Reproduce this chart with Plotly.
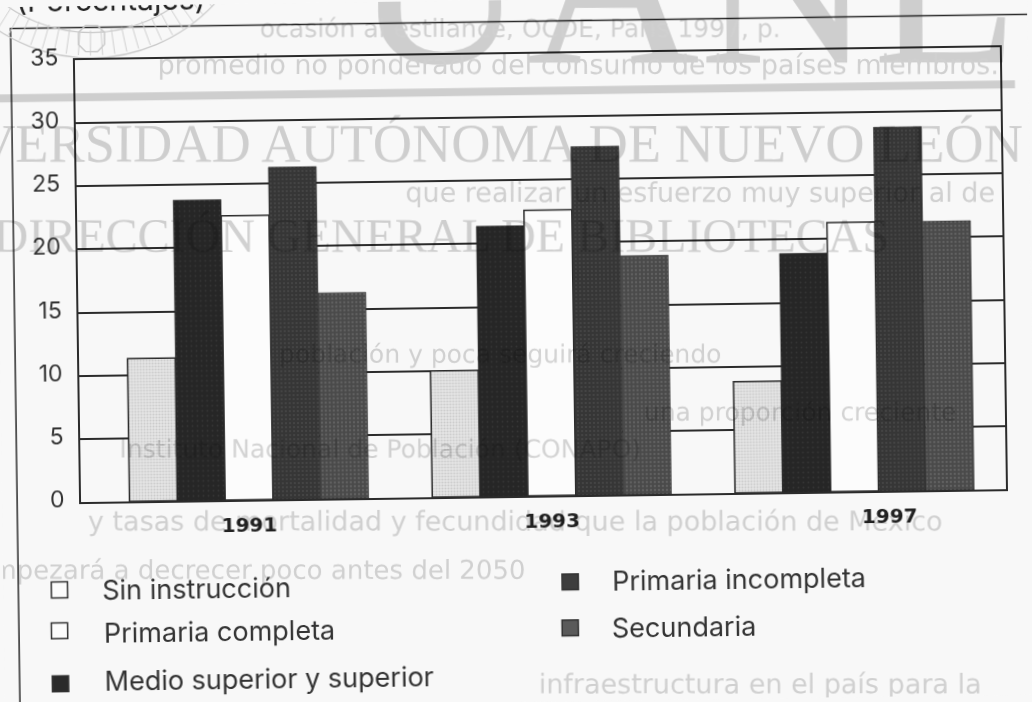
import math
import plotly.graph_objects as go

# ---- data ----
years = ["1991", "1993", "1997"]
group_positions = [0, 1, 2]
year_label_positions = [0, 1, 2.115]
sin_instruccion = [11.3, 10.0, 8.8]
medio_superior = [23.8, 21.4, 18.9]
primaria_completa = [22.5, 22.6, 21.3]
primaria_incompleta = [26.3, 27.6, 28.8]
secundaria = [16.3, 18.9, 21.3]
y_ticks = [0, 5, 10, 15, 20, 25, 30, 35]
title_text = "(Porcentajes)"

W, H = 1032, 702
ANG = 0.8
BG = "#f8f8f8"
INK = "#2b2b2b"
WM = "#d4d4d4"
FAINT = "#d6d6d6"
FONT = "Inter"
ML, MR, MT, MB = 78.5, 28, 53.5, 206


def unrot(x, y):
    """page pixel in the tilted scan -> paper coordinates of the untilted figure"""
    t = math.radians(ANG)
    dx, dy = x - W / 2, y - H / 2
    px = dx * math.cos(t) - dy * math.sin(t) + W / 2
    py = dx * math.sin(t) + dy * math.cos(t) + H / 2
    return (px - ML) / (W - ML - MR), 1 - (py - MT) / (H - MT - MB)


def paper_w(v):
    return v / (W - ML - MR)


def paper_h(v):
    return v / (H - MT - MB)


fig = go.Figure()
series = [
    ("Sin instrucción", sin_instruccion, "#e2e2e2", dict(shape=".", size=3, solidity=0.4, fgcolor="#b0b0b0", bgcolor="#e6e6e6"), 1.5),
    ("Medio superior y superior", medio_superior, "#2a2a2a", dict(shape=".", size=5, solidity=0.1, fgcolor="#444444", bgcolor="#262626"), 0.5),
    ("Primaria completa", primaria_completa, "#fcfcfc", None, 1.5),
    ("Primaria incompleta", primaria_incompleta, "#3d3d3d", dict(shape=".", size=4, solidity=0.2, fgcolor="#5a5a5a", bgcolor="#363636"), 0.5),
    ("Secundaria", secundaria, "#525252", dict(shape=".", size=4, solidity=0.25, fgcolor="#777777", bgcolor="#4a4a4a"), 0.5),
]
for name, vals, col, pat, lw in series:
    marker = dict(color=col, line=dict(color=INK, width=lw))
    if pat:
        marker["pattern"] = pat
    fig.add_trace(go.Bar(name=name, x=group_positions, y=vals, marker=marker, showlegend=False))

shapes = []
annots = []


def label(text, x, y, size, anchor="left", color="#333333", family=FONT):
    px, py = unrot(x, y)
    annots.append(dict(text=text, x=px, y=py, xref="paper", yref="paper", showarrow=False,
                       xanchor=anchor, yanchor="middle",
                       font=dict(size=size, color=color, family=family)))


def watermark(text, cx, cy, size, color=WM, family="Liberation Serif"):
    px, py = unrot(cx, cy)
    shapes.append(dict(type="rect", xref="paper", yref="paper", layer="above",
                       x0=px - paper_w(900), x1=px + paper_w(900),
                       y0=py - paper_h(size), y1=py + paper_h(size),
                       line=dict(width=0), fillcolor="rgba(0,0,0,0)",
                       label=dict(text=text, textposition="middle center", textangle=ANG,
                                  font=dict(size=size, color=color, family=family))))


# outer frame of the page figure
x0, y0 = unrot(10, 28)
_, y1 = unrot(1032, 700)
shapes.append(dict(type="rect", xref="paper", yref="paper", layer="below",
                   x0=x0, x1=paper_w(1060), y0=y1, y1=y0, line=dict(color=INK, width=1.5)))

# legend keys
keys = [(59, 590, "#fcfcfc"), (59, 631, "#fcfcfc"), (60, 684, "#2a2a2a"), (570, 582, "#3d3d3d"), (570, 628, "#5a5a5a")]
for kx, ky, kc in keys:
    a, b = unrot(kx - 8, ky + 8)
    c, d = unrot(kx + 8, ky - 8)
    shapes.append(dict(type="rect", xref="paper", yref="paper", layer="below", x0=a, x1=c, y0=b, y1=d,
                       fillcolor=kc, line=dict(color="#333333", width=1.5)))

label("Sin instrucción", 100, 590, 27)
label("Primaria completa", 101, 633, 27)
label("Medio superior y superior", 102, 682, 27)
label("Primaria incompleta", 610, 581, 27)
label("Secundaria", 610, 628, 27)
label(title_text, 14, 0, 30, color="#222222")

# seal behind the frame
SEAL_X, SEAL_Y = 90, -120
for r in (175, 150):
    a, b = unrot(SEAL_X - r, SEAL_Y - r)
    c, d = unrot(SEAL_X + r, SEAL_Y + r)
    shapes.append(dict(type="circle", xref="paper", yref="paper", layer="below", x0=a, x1=c, y0=b, y1=d,
                       line=dict(color="#c9c9c9", width=1.2)))
for deg in range(30, 151, 4):
    t = math.radians(deg)
    a, b = unrot(SEAL_X + 150 * math.cos(t), SEAL_Y + 150 * math.sin(t))
    c, d = unrot(SEAL_X + 175 * math.cos(t), SEAL_Y + 175 * math.sin(t))
    shapes.append(dict(type="line", xref="paper", yref="paper", layer="below", x0=a, x1=c, y0=b, y1=d,
                       line=dict(color="#d0d0d0", width=1)))
octagon = [(-13, -6), (-6, -13), (6, -13), (13, -6), (13, 6), (6, 13), (-6, 13), (-13, 6)]
pts = [unrot(91 + ox, 38 + oy) for ox, oy in octagon]
shapes.append(dict(type="path", xref="paper", yref="paper", layer="below",
                   path="M" + " L".join(f"{p[0]:.4f},{p[1]:.4f}" for p in pts) + " Z",
                   line=dict(color="#c9c9c9", width=1.5)))

# watermark and show-through text from the page
px, py = unrot(505, 91)
shapes.append(dict(type="rect", xref="paper", yref="paper", layer="above",
                   x0=px - paper_w(510), x1=px + paper_w(510), y0=py - paper_h(4), y1=py + paper_h(4),
                   line=dict(width=0), fillcolor=WM))
watermark("UANL", 686, -45, 240)
watermark("UNIVERSIDAD AUTÓNOMA DE NUEVO LEÓN", 451, 137, 54.3)
watermark("DIRECCIÓN GENERAL DE BIBLIOTECAS", 441, 230, 48)
for t, cx, cy, sz in [
    ("ocasión al estilance, OCDE, París 1997, p.", 520, 26, 25),
    ("promedio no ponderado del consumo de los países miembros.", 578, 62, 27),
    ("que realizar un esfuerzo muy superior al de", 700, 190, 27),
    ("población y poca seguirá creciendo", 500, 352, 25),
    ("una proporción creciente", 800, 410, 25),
    ("Instituto Nacional de Población (CONAPO)", 380, 447, 25),
    ("y tasas de mortalidad y fecundidad que la población de México", 515, 519, 27),
    ("empezará a decrecer poco antes del 2050", 250, 568, 26),
    ("infraestructura en el país para la", 760, 682, 27),
]:
    watermark(t, cx, cy, sz, color=FAINT, family="DejaVu Sans")

fig.update_layout(
    width=W, height=H,
    margin=dict(l=ML, r=MR, t=MT, b=MB, pad=0),
    paper_bgcolor=BG, plot_bgcolor="rgba(0,0,0,0)",
    barmode="group", bargap=0.21, bargroupgap=0,
    showlegend=False, shapes=shapes, annotations=annots,
    xaxis=dict(type="linear", range=[-0.555, 2.5], tickvals=year_label_positions, ticktext=years,
               showgrid=False, zeroline=False, showline=True, mirror=True,
               linecolor=INK, linewidth=2, ticks="outside", ticklen=6, tickcolor="rgba(0,0,0,0)",
               tickfont=dict(size=20, family="DejaVu Sans", color="#222222", weight="bold")),
    yaxis=dict(range=[0, 35], tickvals=y_ticks, showgrid=True, gridcolor=INK, gridwidth=1.6,
               showline=True, mirror=True, linecolor=INK, linewidth=2, zeroline=False,
               ticks="outside", ticklen=10, tickcolor="rgba(0,0,0,0)", ticklabelshift=-3,
               tickfont=dict(size=23, family=FONT, color="#333333")),
)

post = f"""
document.documentElement.style.background='{BG}';
document.body.style.background='{BG}';
document.body.style.margin='0';
document.body.style.overflow='hidden';
var gd=document.getElementsByClassName('plotly-graph-div')[0];
gd.style.transformOrigin='{W/2}px {H/2}px';
gd.style.transform='rotate(-{ANG}deg)';
document.querySelectorAll('.layer-above').forEach(function(e){{e.style.mixBlendMode='multiply';}});
"""
fig.write_html("out.html", post_script=post, config=dict(displayModeBar=False))
